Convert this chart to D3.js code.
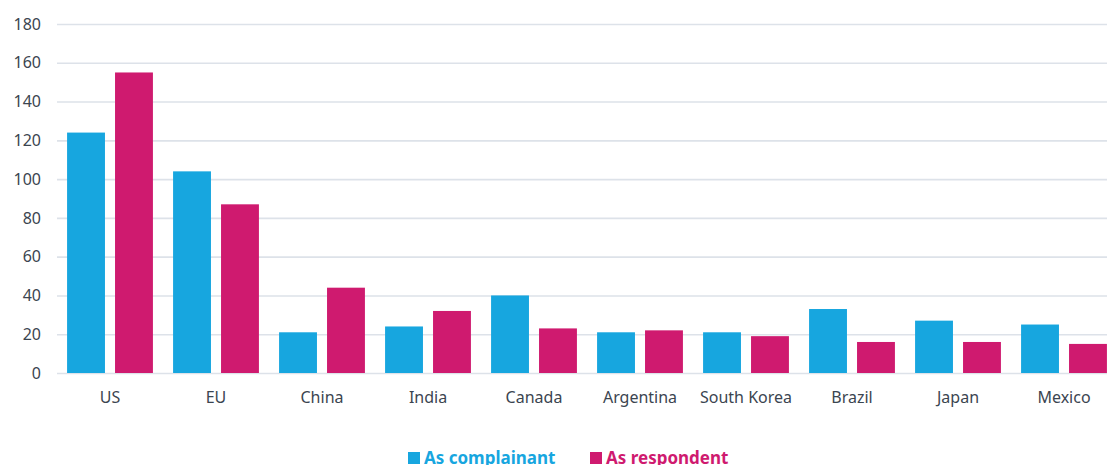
<!DOCTYPE html>
<html>
<head>
<meta charset="utf-8">
<script src="https://cdn.jsdelivr.net/npm/d3@7"></script>
<style>
  body { margin: 0; background: #fff; }
  svg text { font-family: "Noto Sans", "Open Sans", sans-serif; }
</style>
</head>
<body>
<svg id="chart" width="1107" height="465"></svg>
<script>
// Data
var countries = ["US", "EU", "China", "India", "Canada", "Argentina", "South Korea", "Brazil", "Japan", "Mexico"];
var complainant = [124, 104, 21, 24, 40, 21, 21, 33, 27, 25];
var respondent = [155, 87, 44, 32, 23, 22, 19, 16, 16, 15];
var seriesNames = ["As complainant", "As respondent"];
var seriesColors = ["#17a6df", "#cf1a6f"];
var yTicks = [0, 20, 40, 60, 80, 100, 120, 140, 160, 180];

var svg = d3.select("#chart");
var plotLeft = 57, plotRight = 1117, plotTop = 24, plotBottom = 373;

var x0 = d3.scaleBand().domain(countries).range([plotLeft, plotRight]).padding(0);
var x1 = d3.scaleBand().domain([0, 1]).range([0, x0.bandwidth()]).paddingInner(0.21).paddingOuter(0.21);
var y = d3.scaleLinear().domain([0, 180]).range([plotBottom, plotTop]);

// gridlines + y labels
var yAxis = d3.axisLeft(y).tickValues(yTicks).tickSize(-(plotRight - plotLeft)).tickPadding(16);
var gy = svg.append("g").attr("transform", "translate(" + plotLeft + ",0)").call(yAxis);
gy.select(".domain").remove();
gy.selectAll(".tick line").attr("stroke", "#dde2e9").attr("stroke-width", 1.6);
gy.selectAll(".tick text").attr("fill", "#3b4550").style("font-size", "16px");

// x labels
var xAxis = d3.axisBottom(x0).tickSize(0).tickPadding(19);
var gx = svg.append("g").attr("transform", "translate(0," + plotBottom + ")").call(xAxis);
gx.select(".domain").remove();
gx.selectAll(".tick text").attr("fill", "#3b4550").style("font-size", "16px");

// bars
var rows = countries.map(function(c, i) { return {c: c, v: [complainant[i], respondent[i]]}; });
var groups = svg.append("g").selectAll("g").data(rows).enter().append("g")
  .attr("transform", function(d) { return "translate(" + x0(d.c) + ",0)"; });
groups.selectAll("rect").data(function(d) { return d.v.map(function(v, k) { return {k: k, v: v}; }); })
  .enter().append("rect")
  .attr("x", function(d) { return x1(d.k); })
  .attr("width", x1.bandwidth())
  .attr("y", function(d) { return y(d.v); })
  .attr("height", function(d) { return y(0) - y(d.v); })
  .attr("fill", function(d) { return seriesColors[d.k]; });

// legend
var legendX = [408, 590];
var leg = svg.append("g").selectAll("g").data(seriesNames).enter().append("g")
  .attr("transform", function(d, i) { return "translate(" + legendX[i] + ",452)"; });
leg.append("rect").attr("width", 12).attr("height", 12).attr("fill", function(d, i) { return seriesColors[i]; });
leg.append("text").attr("x", 16).attr("y", 12)
  .attr("fill", function(d, i) { return seriesColors[i]; })
  .style("font-size", "17px").style("font-weight", "bold")
  .text(function(d) { return d; });
</script>
</body>
</html>
